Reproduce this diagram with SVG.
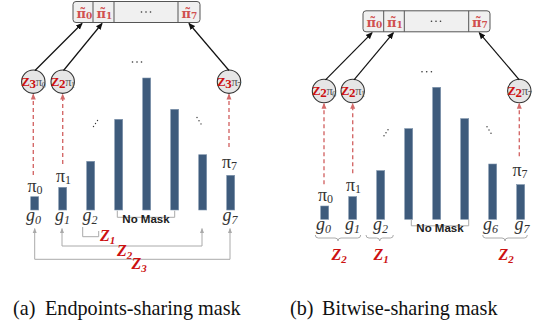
<svg xmlns="http://www.w3.org/2000/svg" width="536" height="326" viewBox="0 0 536 326">
<style>
.bar{fill:#3e5b7c;stroke:#8096ad;stroke-width:0.6}
.box{fill:#f0f0f0;stroke:#555;stroke-width:1}
.div{stroke:#555;stroke-width:1}
.cir{fill:#e6e6e6;stroke:#333;stroke-width:1.1}
.conn{stroke:#111;stroke-width:1.2;fill:none}
.dash{stroke:#d46a6a;stroke-width:1.4;stroke-dasharray:4,3;fill:none}
.gray{stroke:#aaa;stroke-width:1;fill:none}
.pt{font-family:"DejaVu Serif","Liberation Serif",serif;font-weight:bold;fill:#d05050;font-size:13px}
.pi{font-family:"Liberation Serif",serif;fill:#333;font-size:18px}
.lab{font-family:"Liberation Serif",serif;font-style:italic;fill:#333;font-size:18px}
.zl{font-family:"Liberation Serif",serif;font-style:italic;font-weight:bold;fill:#cc1111;font-size:16px}
.ct{font-family:"Liberation Serif",serif;font-size:12.5px;letter-spacing:-0.4px}
.zc{fill:#cc1111;font-weight:bold;font-size:13px}
.nm{font-family:"Liberation Sans",Arial,sans-serif;font-weight:bold;font-size:11.5px;fill:#222}
.cap{font-family:"Liberation Serif","Times New Roman",serif;font-size:20.2px;fill:#111}
.dot{fill:#333}
</style>
<defs>
<marker id="ab" markerWidth="7" markerHeight="7" refX="6" refY="3.5" orient="auto" markerUnits="userSpaceOnUse"><path d="M0,0.5 L7,3.5 L0,6.5 z" fill="#111"/></marker>
<marker id="ar" markerWidth="6" markerHeight="6" refX="5" refY="3" orient="auto" markerUnits="userSpaceOnUse"><path d="M0,0.5 L6,3 L0,5.5 z" fill="#d46a6a"/></marker>
<marker id="ag" markerWidth="5" markerHeight="5" refX="4.5" refY="2.5" orient="auto" markerUnits="userSpaceOnUse"><path d="M0,0.5 L5,2.5 L0,4.5 z" fill="#aaa"/></marker>
</defs>

<!-- Panel (a) -->
<g id="panel-a">
<g id="a-box">
<rect class="box" x="73" y="1.5" width="127" height="21" rx="3"/>
<line class="div" x1="93" y1="1.5" x2="93" y2="22.5"/>
<line class="div" x1="114" y1="1.5" x2="114" y2="22.5"/>
<line class="div" x1="178" y1="1.5" x2="178" y2="22.5"/>
<text class="pt" x="76.5" y="17.5">π̃<tspan font-size="9" dy="1.5">0</tspan></text>
<text class="pt" x="96.5" y="17.5">π̃<tspan font-size="9" dy="1.5">1</tspan></text>
<text class="pt" x="181.5" y="17.5">π̃<tspan font-size="9" dy="1.5">7</tspan></text>
<circle class="dot" cx="141.5" cy="12" r="0.8"/><circle class="dot" cx="146" cy="12" r="0.8"/><circle class="dot" cx="150.5" cy="12" r="0.8"/>
</g>
<g id="a-c0"><circle class="cir" cx="33.3" cy="81.7" r="11.7"/>
<text class="ct" x="33.3" y="86" text-anchor="middle"><tspan class="zc">Z</tspan><tspan class="zc" font-size="8" dy="1.5">3</tspan><tspan fill="#555" dy="-1.5">π</tspan><tspan fill="#555" font-size="8" dy="1.5">0</tspan></text></g>
<g id="a-c1"><circle class="cir" cx="62.7" cy="81.7" r="11.7"/>
<text class="ct" x="62.7" y="86" text-anchor="middle"><tspan class="zc">Z</tspan><tspan class="zc" font-size="8" dy="1.5">2</tspan><tspan fill="#555" dy="-1.5">π</tspan><tspan fill="#555" font-size="8" dy="1.5">1</tspan></text></g>
<g id="a-c7"><circle class="cir" cx="229" cy="81.7" r="11.7"/>
<text class="ct" x="229" y="86" text-anchor="middle"><tspan class="zc">Z</tspan><tspan class="zc" font-size="8" dy="1.5">3</tspan><tspan fill="#555" dy="-1.5">π</tspan><tspan fill="#555" font-size="8" dy="1.5">7</tspan></text></g>
<g id="a-bars">
<rect class="bar" x="30.7" y="196.7" width="8" height="13.3"/>
<rect class="bar" x="58.7" y="187.3" width="8" height="22.7"/>
<rect class="bar" x="86.7" y="161.3" width="8" height="48.7"/>
<rect class="bar" x="114.7" y="119.3" width="8" height="90.7"/>
<rect class="bar" x="142.7" y="78" width="8" height="132"/>
<rect class="bar" x="170.7" y="109.3" width="8" height="100.7"/>
<rect class="bar" x="198.7" y="154.7" width="8" height="55.3"/>
<rect class="bar" x="226.7" y="175.3" width="8" height="34.7"/>
</g>
<g id="a-dots">
<circle class="dot" cx="137" cy="62" r="0.8"/><circle class="dot" cx="132.5" cy="62" r="0.8"/><circle class="dot" cx="141.5" cy="62" r="0.8"/>
<circle class="dot" cx="93.5" cy="126.5" r="0.7"/><circle class="dot" cx="95.5" cy="123.5" r="0.7"/><circle class="dot" cx="97.5" cy="120.5" r="0.7"/>
<circle class="dot" cx="197" cy="117.5" r="0.7"/><circle class="dot" cx="199" cy="120.7" r="0.7"/><circle class="dot" cx="201" cy="123.9" r="0.7"/>
</g>
<g id="a-labels">
<text class="pi" x="27.5" y="191.5">π<tspan font-size="12" dy="2">0</tspan></text>
<text class="pi" x="56" y="182">π<tspan font-size="12" dy="2">1</tspan></text>
<text class="pi" x="222" y="167.5">π<tspan font-size="12" dy="2">7</tspan></text>
<text class="lab" x="26" y="221">g<tspan font-size="12" dy="3">0</tspan></text>
<text class="lab" x="55" y="221">g<tspan font-size="12" dy="3">1</tspan></text>
<text class="lab" x="82.5" y="221">g<tspan font-size="12" dy="3">2</tspan></text>
<text class="lab" x="222.5" y="221">g<tspan font-size="12" dy="3">7</tspan></text>
<path class="gray" d="M117.3,210.7 V217.3 H174.7 V210.7"/>
<text class="nm" x="146" y="222.5" text-anchor="middle">No Mask</text>
<path class="gray" d="M82.7,227 V236.7 H98.7 V231"/>
<text class="zl" x="100" y="240.5">Z<tspan font-size="11" dy="3">1</tspan></text>
<path class="gray" d="M62,246 V228.5" marker-end="url(#ag)"/>
<path class="gray" d="M62,246 H202"/>
<path class="gray" d="M202,246 V228.5" marker-end="url(#ag)"/>
<text class="zl" x="117" y="255.5">Z<tspan font-size="11" dy="3">2</tspan></text>
<path class="gray" d="M34.7,259.3 V228.5" marker-end="url(#ag)"/>
<path class="gray" d="M34.7,259.3 H230"/>
<path class="gray" d="M230,259.3 V228.5" marker-end="url(#ag)"/>
<text class="zl" x="131.5" y="268.5">Z<tspan font-size="11" dy="3">3</tspan></text>
</g>
<g id="a-connectors">
<line class="conn" x1="35" y1="70.5" x2="82" y2="23.5" marker-end="url(#ab)"/>
<line class="conn" x1="63.5" y1="70.5" x2="102" y2="23.5" marker-end="url(#ab)"/>
<line class="conn" x1="229" y1="70.5" x2="189" y2="23.5" marker-end="url(#ab)"/>
<line class="dash" x1="33.3" y1="175" x2="33.3" y2="94.5" marker-end="url(#ar)"/>
<line class="dash" x1="62.7" y1="164" x2="62.7" y2="94.5" marker-end="url(#ar)"/>
<line class="dash" x1="229" y1="147" x2="229" y2="94.5" marker-end="url(#ar)"/>
</g>
</g>

<!-- Panel (b) -->
<g id="panel-b" transform="translate(290,9.3)">
<g id="b-box">
<rect class="box" x="73" y="1.5" width="127" height="21" rx="3"/>
<line class="div" x1="93.7" y1="1.5" x2="93.7" y2="22.5"/>
<line class="div" x1="114.3" y1="1.5" x2="114.3" y2="22.5"/>
<line class="div" x1="178.7" y1="1.5" x2="178.7" y2="22.5"/>
<text class="pt" x="76.5" y="17.5">π̃<tspan font-size="9" dy="1.5">0</tspan></text>
<text class="pt" x="97" y="17.5">π̃<tspan font-size="9" dy="1.5">1</tspan></text>
<text class="pt" x="182" y="17.5">π̃<tspan font-size="9" dy="1.5">7</tspan></text>
<circle class="dot" cx="141.5" cy="12" r="0.8"/><circle class="dot" cx="146" cy="12" r="0.8"/><circle class="dot" cx="150.5" cy="12" r="0.8"/>
</g>
<g id="b-c0"><circle class="cir" cx="34" cy="81.7" r="11.7"/>
<text class="ct" x="34" y="86" text-anchor="middle"><tspan class="zc">Z</tspan><tspan class="zc" font-size="8" dy="1.5">2</tspan><tspan fill="#555" dy="-1.5">π</tspan><tspan fill="#555" font-size="8" dy="1.5">0</tspan></text></g>
<g id="b-c1"><circle class="cir" cx="62.7" cy="81.7" r="11.7"/>
<text class="ct" x="62.7" y="86" text-anchor="middle"><tspan class="zc">Z</tspan><tspan class="zc" font-size="8" dy="1.5">2</tspan><tspan fill="#555" dy="-1.5">π</tspan><tspan fill="#555" font-size="8" dy="1.5">1</tspan></text></g>
<g id="b-c7"><circle class="cir" cx="229.3" cy="81.7" r="11.7"/>
<text class="ct" x="229.3" y="86" text-anchor="middle"><tspan class="zc">Z</tspan><tspan class="zc" font-size="8" dy="1.5">2</tspan><tspan fill="#555" dy="-1.5">π</tspan><tspan fill="#555" font-size="8" dy="1.5">7</tspan></text></g>
<g id="b-bars">
<rect class="bar" x="30.7" y="196.7" width="8" height="13.3"/>
<rect class="bar" x="58.7" y="187.3" width="8" height="22.7"/>
<rect class="bar" x="86.7" y="161.3" width="8" height="48.7"/>
<rect class="bar" x="114.7" y="119.3" width="8" height="90.7"/>
<rect class="bar" x="142.7" y="78" width="8" height="132"/>
<rect class="bar" x="170.7" y="109.3" width="8" height="100.7"/>
<rect class="bar" x="198.7" y="154.7" width="8" height="55.3"/>
<rect class="bar" x="226.7" y="175.3" width="8" height="34.7"/>
</g>
<g id="b-dots">
<circle class="dot" cx="132" cy="62.4" r="0.8"/><circle class="dot" cx="136.7" cy="62.4" r="0.8"/><circle class="dot" cx="141.4" cy="62.4" r="0.8"/>
<circle class="dot" cx="94" cy="126.5" r="0.7"/><circle class="dot" cx="96" cy="123.5" r="0.7"/><circle class="dot" cx="98" cy="120.5" r="0.7"/>
<circle class="dot" cx="197" cy="117.5" r="0.7"/><circle class="dot" cx="199" cy="120.7" r="0.7"/><circle class="dot" cx="201" cy="123.9" r="0.7"/>
</g>
<g id="b-labels">
<text class="pi" x="28" y="191.5">π<tspan font-size="12" dy="2">0</tspan></text>
<text class="pi" x="56" y="182">π<tspan font-size="12" dy="2">1</tspan></text>
<text class="pi" x="222.5" y="167">π<tspan font-size="12" dy="2">7</tspan></text>
<text class="lab" x="26" y="221">g<tspan font-size="12" dy="3">0</tspan></text>
<text class="lab" x="55" y="221">g<tspan font-size="12" dy="3">1</tspan></text>
<text class="lab" x="83" y="221">g<tspan font-size="12" dy="3">2</tspan></text>
<text class="lab" x="193" y="221">g<tspan font-size="12" dy="3">6</tspan></text>
<text class="lab" x="224.5" y="221">g<tspan font-size="12" dy="3">7</tspan></text>
<path class="gray" d="M121.3,210 V216.5 H178.7 V210"/>
<text class="nm" x="150" y="223" text-anchor="middle">No Mask</text>
<path class="gray" d="M25.3,225.7 Q25.3,228.7 28.3,228.7 H45 Q48,228.7 48,231.7 Q48,228.7 51,228.7 H67.7 Q70.7,228.7 70.7,225.7"/>
<path class="gray" d="M76,225.7 Q76,228.7 79,228.7 H86.7 Q89.7,228.7 89.7,231.7 Q89.7,228.7 92.7,228.7 H100.3 Q103.3,228.7 103.3,225.7"/>
<path class="gray" d="M192.7,225.7 Q192.7,228.7 195.7,228.7 H212 Q215,228.7 215,231.7 Q215,228.7 218,228.7 H234.3 Q237.3,228.7 237.3,225.7"/>
<text class="zl" x="41.5" y="250.5">Z<tspan font-size="11" dy="3">2</tspan></text>
<text class="zl" x="83.5" y="250.5">Z<tspan font-size="11" dy="3">1</tspan></text>
<text class="zl" x="208.5" y="250.5">Z<tspan font-size="11" dy="3">2</tspan></text>
</g>
<g id="b-connectors">
<line class="conn" x1="35.5" y1="70.5" x2="82" y2="23.5" marker-end="url(#ab)"/>
<line class="conn" x1="64" y1="70.5" x2="103.3" y2="23.5" marker-end="url(#ab)"/>
<line class="conn" x1="229.3" y1="70.5" x2="189.3" y2="23.5" marker-end="url(#ab)"/>
<line class="dash" x1="34" y1="175" x2="34" y2="94.5" marker-end="url(#ar)"/>
<line class="dash" x1="62.7" y1="164" x2="62.7" y2="94.5" marker-end="url(#ar)"/>
<line class="dash" x1="229.3" y1="147" x2="229.3" y2="94.5" marker-end="url(#ar)"/>
</g>
</g>

<g id="captions">
<text class="cap" x="13" y="315">(a)</text>
<text class="cap" x="45" y="315">Endpoints-sharing mask</text>
<text class="cap" x="290" y="315">(b)</text>
<text class="cap" x="322" y="315">Bitwise-sharing mask</text>
</g>
</svg>
